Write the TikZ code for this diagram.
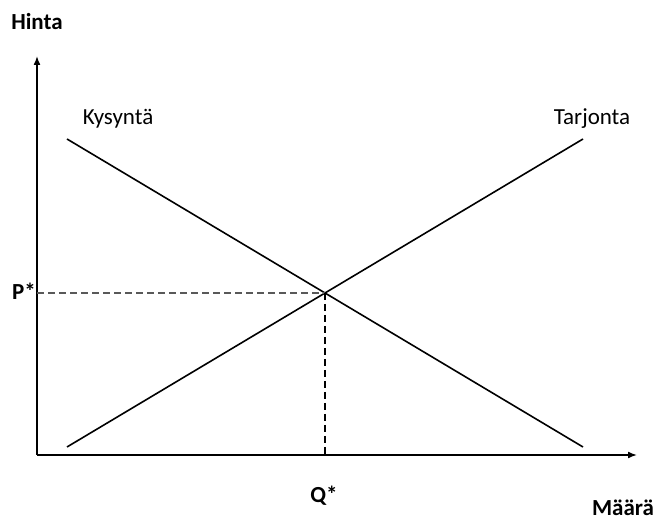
\documentclass[tikz,border=0pt]{standalone}
\usepackage{fontspec}
\setmainfont{Carlito}
\usepackage{tikz}
\usetikzlibrary{arrows.meta,calc,positioning}

\tikzset{
  axis/.style={line width=1.6pt,-{Latex[length=9pt,width=7pt]}},
  curve/.style={line width=1.6pt},
  guide/.style={line width=1.6pt,dash pattern=on 7pt off 4pt},
  lbl/.style={font=\fontsize{23}{28}\selectfont,inner sep=0pt,anchor=base}
}

\begin{document}
\begin{tikzpicture}[x=1pt,y=1pt]
        \useasboundingbox (0,0) rectangle (659,521);
        % axes
        \coordinate (O) at (37,66);
        \coordinate (ytip) at (37,465);
        \coordinate (xtip) at (637,66);
        \draw[axis] (O) -- (ytip);
        \draw[axis] (O) -- (xtip);
        \node[lbl,font=\fontsize{23}{28}\selectfont\bfseries] (hinta) at (37,491) {Hinta};
        \node[lbl,font=\fontsize{23}{28}\selectfont\bfseries] (maara) at (623,5) {Määrä};
        % demand and supply
        \coordinate (d1) at (67,382);
        \coordinate (d2) at (583,74);
        \coordinate (s1) at (67,74);
        \coordinate (s2) at (583,382);
        \draw[curve] (d1) -- (d2);
        \draw[curve] (s1) -- (s2);
        \node[lbl] (kysynta) at (118,396) {Kysyntä};
        \node[lbl] (tarjonta) at (592,396) {Tarjonta};
        % equilibrium
        \coordinate (E) at (325,228);
        \coordinate (Py) at (37,228);
        \coordinate (Qx) at (325,66);
        \draw[guide,black!65] (Py) -- (E);
        \draw[guide] (E) -- (Qx);
        \node[lbl,font=\fontsize{23}{28}\selectfont\bfseries] (pstar) at (24,221) {P*};
        \node[lbl,font=\fontsize{23}{28}\selectfont\bfseries] (qstar) at (324,18) {Q*};
\end{tikzpicture}
\end{document}
